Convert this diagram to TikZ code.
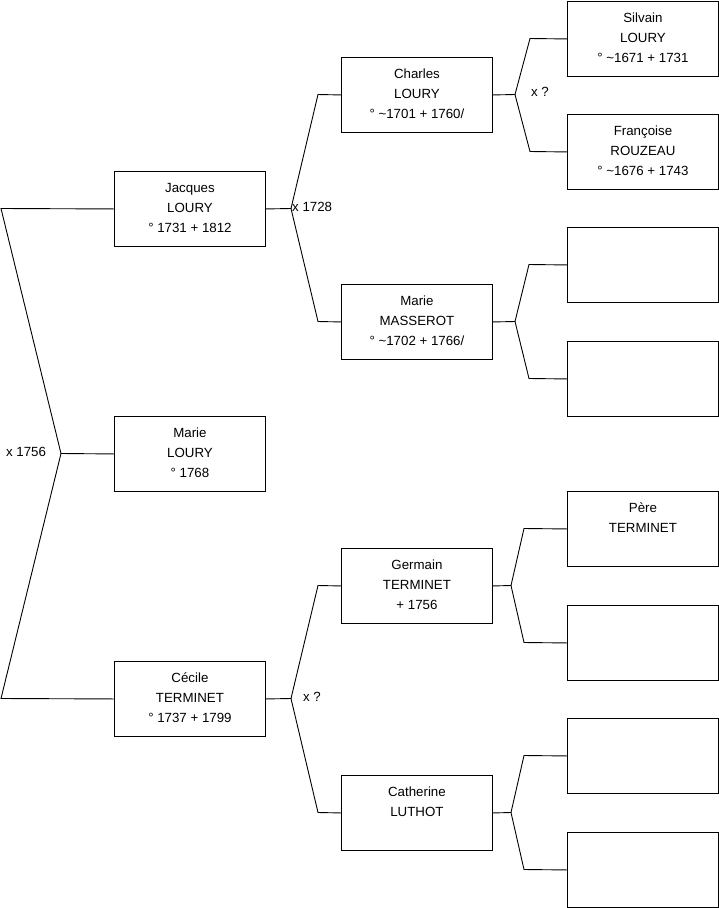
\documentclass[tikz,border=0pt]{standalone}
\usepackage{fontspec}
\setmainfont{Liberation Sans}
\begin{document}
\begin{tikzpicture}[x=1pt,y=-1pt,
  box/.style={draw=black,line width=0.9pt,rectangle,anchor=north west,minimum width=151pt,minimum height=75pt,inner sep=0pt},
  txt/.style={anchor=north,align=center,inner sep=0pt,font=\fontsize{13.3}{20}\selectfont},
  lbl/.style={inner sep=0pt,font=\fontsize{13.3}{16}\selectfont},
  conn/.style={draw=black,line width=0.9pt,line join=miter}]
\useasboundingbox (0,0) rectangle (719,908);
\newcommand\person[3]{%
  \node[box] (#1) at (#2) {};
  \node[txt] (#1-t) at ([yshift=-10pt]#1.north) {\rule{0pt}{11pt}#3};}
% column 1
\person{jacques}{114,171}{Jacques\\LOURY\\° 1731 + 1812}
\person{mlour}{114,416}{Marie\\LOURY\\° 1768}
\person{cecile}{114,661}{Cécile\\TERMINET\\° 1737 + 1799}
% column 2
\person{charles}{341,57}{Charles\\LOURY\\° \textasciitilde1701 + 1760/}
\person{masserot}{341,284}{Marie\\MASSEROT\\° \textasciitilde1702 + 1766/}
\person{germain}{341,548}{Germain\\TERMINET\\+ 1756}
\person{catherine}{341,775}{Catherine\\LUTHOT}
% column 3
\person{silvain}{567,1}{Silvain\\LOURY\\° \textasciitilde1671 + 1731}
\person{francoise}{567,114}{Françoise\\ROUZEAU\\° \textasciitilde1676 + 1743}
\node[box] (e3) at (567,227) {};
\node[box] (e4) at (567,341) {};
\person{pere}{567,491}{Père\\TERMINET}
\node[box] (e6) at (567,605) {};
\node[box] (e7) at (567,718) {};
\node[box] (e8) at (567,832) {};
% vertices
\coordinate (t1) at (1,208.5);
\coordinate (v1) at (61,453.5);
\coordinate (t2) at (1,698.5);
\coordinate (vJ) at (291,208.5);
\coordinate (aJ) at (318,94.5);
\coordinate (bJ) at (318,321.5);
\coordinate (vC) at (291,698.5);
\coordinate (aC) at (318,585.5);
\coordinate (bC) at (318,812.5);
\coordinate (vCh) at (515,94.5);
\coordinate (aCh) at (530,38.5);
\coordinate (bCh) at (530,151.5);
\coordinate (vM) at (515,321.5);
\coordinate (aM) at (529,264.5);
\coordinate (bM) at (529,378.5);
\coordinate (vG) at (511,585.5);
\coordinate (aG) at (524,528.5);
\coordinate (bG) at (524,642.5);
\coordinate (vK) at (511,812.5);
\coordinate (aK) at (524,755.5);
\coordinate (bK) at (524,869.5);
% connectors
\draw[conn] (jacques.west) -- (t1) -- (v1) -- (t2) -- (cecile.west);
\draw[conn] (v1) -- (mlour.west);
\draw[conn] (jacques.east) -- (vJ);
\draw[conn] (charles.west) -- (aJ) -- (vJ) -- (bJ) -- (masserot.west);
\draw[conn] (cecile.east) -- (vC);
\draw[conn] (germain.west) -- (aC) -- (vC) -- (bC) -- (catherine.west);
\draw[conn] (charles.east) -- (vCh);
\draw[conn] (silvain.west) -- (aCh) -- (vCh) -- (bCh) -- (francoise.west);
\draw[conn] (masserot.east) -- (vM);
\draw[conn] (e3.west) -- (aM) -- (vM) -- (bM) -- (e4.west);
\draw[conn] (germain.east) -- (vG);
\draw[conn] (pere.west) -- (aG) -- (vG) -- (bG) -- (e6.west);
\draw[conn] (catherine.east) -- (vK);
\draw[conn] (e7.west) -- (aK) -- (vK) -- (bK) -- (e8.west);
% marriage labels
\node[lbl] (m1) at (26,452) {x 1756};
\node[lbl,anchor=west] (m2) at (292,207) {x 1728};
\node[lbl] (m3) at (540,92) {x ?};
\node[lbl] (m4) at (312,697) {x ?};
\end{tikzpicture}
\end{document}
